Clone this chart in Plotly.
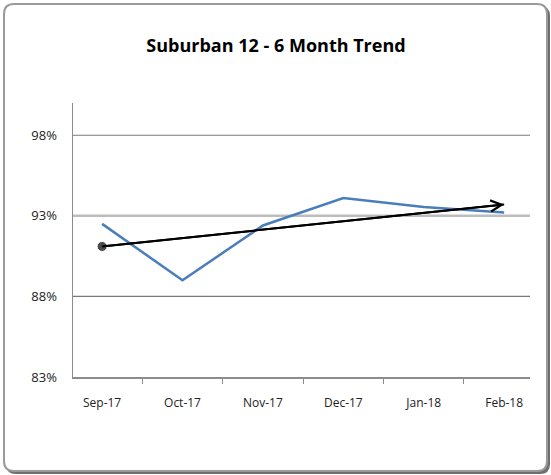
import plotly.graph_objects as go

months = ["Sep-17", "Oct-17", "Nov-17", "Dec-17", "Jan-18", "Feb-18"]
values = [92.5, 89.0, 92.4, 94.1, 93.55, 93.2]
trend_start = 91.1
trend_end = 93.7
target = 93
y_ticks = [83, 88, 93, 98]
y_tick_labels = ["83%", "88%", "93%", "98%"]

W, H = 551, 475
L, R, T, B = 73, 21, 103, 98
pw, ph = W - L - R, H - T - B

def px(x):
    return (x - L) / pw

def py(y):
    return (H - B - y) / ph

def rrect(x0, y0, x1, y1, r):
    rx, ry = r / pw, r / ph
    X0, X1, Y0, Y1 = px(x0), px(x1), py(y0), py(y1)
    return (f"M{X0+rx},{Y0} L{X1-rx},{Y0} Q{X1},{Y0} {X1},{Y0-ry} "
            f"L{X1},{Y1+ry} Q{X1},{Y1} {X1-rx},{Y1} L{X0+rx},{Y1} "
            f"Q{X0},{Y1} {X0},{Y1+ry} L{X0},{Y0-ry} Q{X0},{Y0} {X0+rx},{Y0} Z")

fig = go.Figure()

fig.add_trace(go.Scatter(
    x=months, y=values, mode="lines",
    line=dict(color="#4A7EBB", width=2.5),
    hoverinfo="skip", showlegend=False,
))

fig.add_trace(go.Scatter(
    x=[months[0], months[-1]], y=[trend_start, trend_end], mode="lines+markers",
    line=dict(color="#000000", width=2),
    marker=dict(size=[10, 0], color="#000000"),
    hoverinfo="skip", showlegend=False,
))

fig.add_annotation(
    x=len(months) - 1, y=trend_end, ax=0, ay=trend_start,
    xref="x", yref="y", axref="x", ayref="y",
    text="", showarrow=True, arrowhead=5, arrowsize=1.1, arrowwidth=2,
    arrowcolor="#000000", standoff=0,
)

shapes = [
    dict(type="path", xref="paper", yref="paper", path=rrect(6, 6, 550, 474, 10),
         fillcolor="#6e6e6e", line=dict(width=0), layer="below"),
    dict(type="path", xref="paper", yref="paper", path=rrect(4, 4, 547, 471, 10),
         fillcolor="#ffffff", line=dict(color="#9a9a9a", width=2), layer="below"),
]
for v in y_ticks[1:]:
    if v == target:
        style = dict(color="#bdbdbd", width=2.5)
    else:
        style = dict(color="#7a7a7a", width=1.2)
    shapes.append(dict(type="line", xref="paper", yref="y", x0=0, x1=1, y0=v, y1=v,
                       line=style, layer="below"))

fig.update_layout(
    width=W, height=H,
    margin=dict(l=L, r=R, t=T, b=B),
    paper_bgcolor="#ffffff",
    plot_bgcolor="rgba(0,0,0,0)",
    shapes=shapes,
    title=dict(
        text="<b>Suburban 12 - 6 Month Trend</b>",
        x=276 / W, xref="container", xanchor="center",
        y=1 - 46 / H, yref="container", yanchor="middle",
        font=dict(family="Open Sans", size=18, color="#000000"),
    ),
    xaxis=dict(
        type="category", categoryorder="array", categoryarray=months,
        showgrid=False, showline=True, linecolor="#8c8c8c", linewidth=1.5,
        ticks="outside", ticklen=5, tickcolor="#8c8c8c", tickson="boundaries",
        ticklabelstandoff=14,
        tickfont=dict(family="Open Sans", size=12, color="#222222"),
        zeroline=False, fixedrange=True,
    ),
    yaxis=dict(
        range=[83, 100], tickvals=y_ticks, ticktext=y_tick_labels,
        showgrid=False,
        showline=True, linecolor="#8c8c8c", linewidth=1.5,
        ticks="", ticklabelstandoff=12,
        tickfont=dict(family="Open Sans", size=13, color="#222222"),
        zeroline=False, fixedrange=True,
    ),
)

fig.write_html(
    "out.html",
    config={"displayModeBar": False, "staticPlot": True},
    post_script="document.body.style.margin='0';document.body.style.overflow='hidden';",
)
